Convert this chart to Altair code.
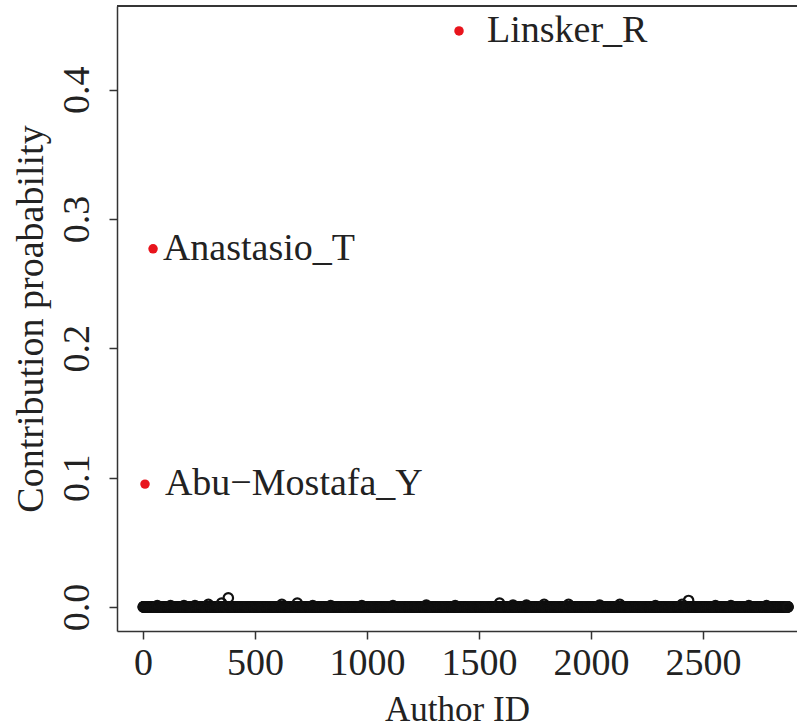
import altair as alt
import pandas as pd

# ---- data ----
n_authors = 2880                      # author IDs 1..2880, nearly all ~0
raised_ids = [64, 123, 183, 232, 292, 351, 381, 620, 689, 758, 838, 977, 1116,
              1265, 1394, 1592, 1652, 1712, 1791, 1900, 2039, 2129, 2288, 2407,
              2436, 2556, 2625, 2705, 2784]
raised_vals = [0.001, 0.001, 0.001, 0.001, 0.002, 0.003, 0.007, 0.002, 0.003,
               0.001, 0.001, 0.001, 0.001, 0.0015, 0.001, 0.003, 0.0015, 0.0015,
               0.002, 0.002, 0.0015, 0.002, 0.001, 0.002, 0.005, 0.001, 0.001,
               0.001, 0.001]

top_names = ["Abu−Mostafa_Y", "Anastasio_T", "Linsker_R"]
top_ids = [9, 45, 1411]
top_vals = [0.095, 0.277, 0.4455]
label_x = [98, 89, 1536]

x_ticks = [0, 500, 1000, 1500, 2000, 2500]
y_ticks = [0.0, 0.1, 0.2, 0.3, 0.4]

# ---- tables ----
raised = dict(zip(raised_ids, raised_vals))
others = pd.DataFrame({
    "id": list(range(1, n_authors + 1)),
    "p": [raised.get(i, 0.0) for i in range(1, n_authors + 1)],
})
others = others[~others["id"].isin(top_ids)]
tops = pd.DataFrame({"id": top_ids, "p": top_vals, "name": top_names, "lx": label_x})

FONT = "Liberation Serif"
W, H = 680, 625

xscale = alt.Scale(domain=[-116, 2920], nice=False, zero=False)
yscale = alt.Scale(domain=[-0.0186, 0.4648], nice=False, zero=False)

xaxis = alt.Axis(values=x_ticks, format="d", title="Author ID", grid=False,
                 domainColor="#333", domainWidth=1.5, tickColor="#333", tickWidth=1.5,
                 tickSize=8, labelPadding=5, labelFont=FONT, labelFontSize=38,
                 labelColor="#222", labelFlush=False, labelOverlap=False,
                 titleFont=FONT, titleFontSize=35, titleFontWeight="normal",
                 titleColor="#222", titleBaseline="alphabetic", titleY=89)
yaxis = alt.Axis(values=y_ticks, format=".1f", title="Contribution proabability",
                 grid=False, domainColor="#333", domainWidth=1.5, tickColor="#333",
                 tickWidth=1.5, tickSize=8, labelPadding=21, labelAngle=270,
                 labelAlign="center", labelBaseline="alphabetic", labelFont=FONT,
                 labelFontSize=38, labelColor="#222", labelFlush=False,
                 labelOverlap=False, titleFont=FONT, titleFontSize=38,
                 titleFontWeight="normal", titleColor="#222", titleAngle=270,
                 titleBaseline="alphabetic", titleX=-75, titleY=H / 2)

base_pts = alt.Chart(others).mark_point(
    shape="circle", filled=False, color="#111", size=90, strokeWidth=2.2, opacity=1
).encode(
    x=alt.X("id:Q", scale=xscale, axis=xaxis),
    y=alt.Y("p:Q", scale=yscale, axis=yaxis),
)

red_pts = alt.Chart(tops).mark_circle(color="#e8141c", size=90, opacity=1).encode(
    x=alt.X("id:Q", scale=xscale),
    y=alt.Y("p:Q", scale=yscale),
)

labels = alt.Chart(tops).mark_text(
    font=FONT, fontSize=38, color="#222", align="left", baseline="middle"
).encode(
    x=alt.X("lx:Q", scale=xscale),
    y=alt.Y("p:Q", scale=yscale),
    text="name:N",
)

top_border = alt.Chart(tops).mark_rule(color="#333", strokeWidth=1.5).encode(
    x=alt.value(0), x2=alt.value(W), y=alt.value(0)
)

chart = alt.layer(base_pts, red_pts, labels, top_border).properties(
    width=W, height=H,
    autosize=alt.AutoSizeParams(type="none"),
    padding={"left": 117, "top": 6, "right": 0, "bottom": 97},
    background="white",
).configure_view(strokeWidth=0)

chart.save("out.html", embed_options={"renderer": "svg", "actions": False})
